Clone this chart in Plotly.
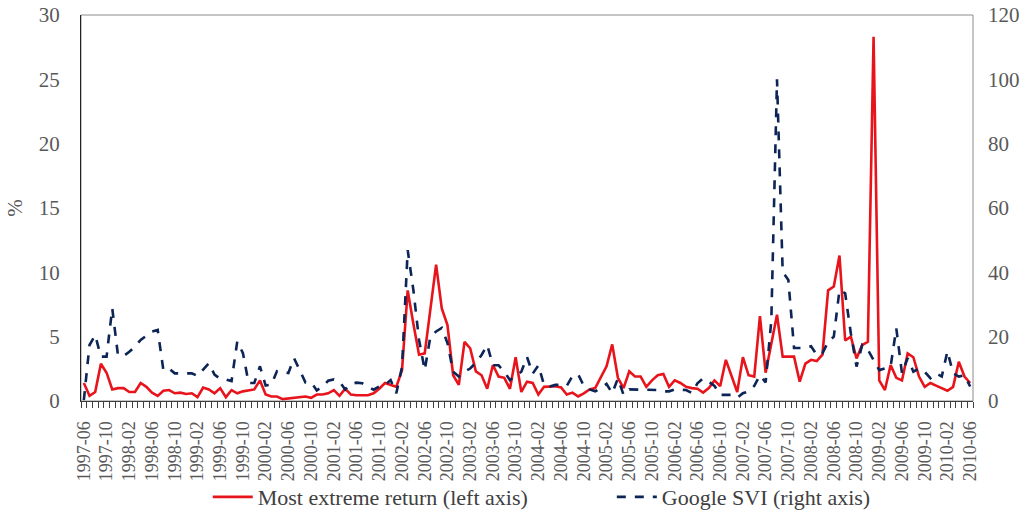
import pandas as pd
import plotly.graph_objects as go

# monthly categories 1997-06 .. 2010-06
months = [p.strftime("%Y-%m") for p in pd.period_range("1997-06", "2010-06", freq="M")]

# most extreme return, % (left axis)
extreme_return = [
    1.4, 0.4, 0.7, 2.9, 2.2, 0.9, 1.0, 1.0, 0.7, 0.7, 1.4, 1.1, 0.65, 0.4, 0.8, 0.85,
    0.6, 0.65, 0.55, 0.6, 0.3, 1.05, 0.9, 0.6, 1.0, 0.3, 0.85, 0.6, 0.75, 0.85, 0.9, 1.6,
    0.5, 0.35, 0.35, 0.15, 0.2, 0.2, 0.25, 0.35, 0.25, 0.5,
    0.5, 0.6, 0.85, 0.4, 0.95, 0.5, 0.45, 0.45, 0.45, 0.6, 0.95, 1.4, 1.25, 1.1, 2.4, 8.6,
    6.0, 3.6, 3.7, 7.1, 10.6, 7.2, 5.9, 2.0, 1.25, 4.6, 4.1, 2.3, 2.0, 0.95, 2.8, 1.9,
    1.8, 0.95, 3.4, 0.7, 1.5, 1.4, 0.5, 1.1, 1.1, 1.15,
    1.05, 0.5, 0.65, 0.35, 0.6, 0.9, 1.0, 1.8, 2.7, 4.4, 1.8, 1.0, 2.3, 1.9, 1.9, 1.1,
    1.6, 2.0, 2.1, 1.1, 1.6, 1.4, 1.1, 1.0, 0.95, 0.65, 1.0, 1.6, 1.15, 3.2, 1.9, 0.7,
    3.4, 2.0, 1.9, 6.6, 2.2, 4.6, 6.7, 3.45, 3.45, 3.45, 1.5,
    2.9, 3.2, 3.1, 3.6, 8.6, 8.9, 11.3, 4.7, 5.0, 3.3, 4.35, 4.6, 28.3, 1.6, 0.85, 2.8,
    1.8, 1.6, 3.7, 3.4, 1.9, 1.1, 1.4, 1.2, 1.0, 0.8, 1.1, 3.05, 1.9, 1.4,
]

# Google search volume index (right axis)
google_svi = [
    0.3, 17.4, 20.5, 13.8, 13.8, 28.8, 14.3, 14.0, 15.3, 16.9, 19.0, 20.2, 21.6, 22.1, 9.6, 10.1,
    8.6, 8.6, 8.6, 8.6, 7.8, 9.9, 11.7, 8.2, 6.9, 6.7, 6.2, 18.5, 14.9, 5.6, 5.6, 10.8,
    4.8, 5.1, 9.3, 9.0, 8.7, 13.3, 9.6, 5.8, 5.8, 3.3,
    4.5, 6.3, 6.7, 6.0, 3.6, 5.3, 5.7, 5.5, 4.5, 3.5, 4.5, 5.0, 6.5, 2.4, 10.6, 46.9,
    34.5, 19.0, 9.6, 20.1, 21.6, 22.7, 18.0, 9.1, 7.6, 9.1, 10.1, 11.9, 14.3, 17.4, 11.1, 11.1,
    9.1, 6.5, 7.8, 9.1, 13.7, 8.5, 11.1, 5.0, 4.5, 5.0,
    5.0, 4.7, 7.8, 8.3, 4.7, 3.6, 3.0, 4.0, 5.3, 2.4, 7.0, 1.9, 3.6, 3.6, 3.6, 3.6,
    3.6, 3.4, 3.0, 3.0, 3.6, 3.6, 3.4, 2.5, 5.5, 7.0, 6.0, 4.7, 1.9, 1.9, 1.9, 1.0,
    2.4, 3.0, 4.7, 8.0, 5.8, 25.0, 100.0, 40.2, 37.6, 16.5, 16.5,
    16.5, 17.0, 14.3, 14.8, 18.4, 20.0, 34.5, 33.5, 21.0, 10.7, 17.4, 15.9, 12.7, 9.6, 10.1, 10.7,
    22.6, 8.6, 13.3, 9.1, 10.1, 9.1, 7.1, 8.6, 7.6, 15.5, 8.6, 7.6, 8.0, 4.5,
]

FONT = "Liberation Serif, Times New Roman, serif"
TICK_GRAY = "#595959"

x_idx = list(range(len(months)))
label_idx = x_idx[::4]

fig = go.Figure()
fig.add_trace(
    go.Scatter(
        x=x_idx,
        y=extreme_return,
        name="Most extreme return (left axis)",
        mode="lines",
        line=dict(color="#E8141C", width=2.6),
        legend="legend",
    )
)
fig.add_trace(
    go.Scatter(
        x=x_idx,
        y=google_svi,
        name="Google SVI (right axis)",
        mode="lines",
        yaxis="y2",
        line=dict(color="#0C2456", width=2.6, dash="dash"),
        legend="legend2",
    )
)

# legends placed against the whole figure so they do not push the margins
legend_style = dict(
    orientation="h",
    xref="container",
    yref="container",
    xanchor="left",
    y=0.046,
    yanchor="middle",
    font=dict(family=FONT, size=22, color="#404040"),
    itemwidth=40,
    bgcolor="rgba(0,0,0,0)",
)

fig.update_layout(
    width=1030,
    height=521,
    paper_bgcolor="white",
    plot_bgcolor="white",
    font=dict(family=FONT, color=TICK_GRAY),
    margin=dict(l=81, r=57, t=15, b=120),
    showlegend=True,
    legend=dict(x=0.2017, **legend_style),
    legend2=dict(x=0.594, **legend_style),
    xaxis=dict(
        range=[-0.5, len(months) - 0.5],
        tickmode="array",
        tickvals=label_idx,
        ticktext=[months[i] for i in label_idx],
        tickangle=-90,
        tickfont=dict(family=FONT, size=18, color=TICK_GRAY),
        ticks="",
        minor=dict(ticks="outside", ticklen=6, tick0=-0.5, dtick=1,
                   tickcolor="#404040", tickwidth=1, showgrid=False),
        showline=True,
        linecolor="#404040",
        linewidth=1,
        showgrid=False,
        zeroline=False,
        automargin=False,
        ticklabelstandoff=12,
    ),
    yaxis=dict(
        range=[0, 30],
        dtick=5,
        tickfont=dict(family=FONT, size=21, color=TICK_GRAY),
        title=dict(text="%", font=dict(family=FONT, size=21, color=TICK_GRAY), standoff=10),
        showline=True,
        linecolor="#222222",
        linewidth=1.2,
        showgrid=False,
        zeroline=False,
        ticks="",
        ticklabelstandoff=16,
        automargin=False,
    ),
    yaxis2=dict(
        range=[0, 120],
        dtick=20,
        overlaying="y",
        side="right",
        tickfont=dict(family=FONT, size=21, color=TICK_GRAY),
        showgrid=False,
        zeroline=False,
        showline=False,
        ticks="",
        ticklabelstandoff=14,
        automargin=False,
    ),
    shapes=[
        dict(type="rect", xref="paper", yref="paper", x0=0, x1=1, y0=0, y1=1,
             line=dict(color="#8c8c8c", width=1), layer="below"),
    ],
)

# drop the default 8px page margin so the figure fills the window exactly
fig.write_html(
    "out.html",
    config={"displayModeBar": False},
    post_script="document.body.style.margin = '0';",
)
